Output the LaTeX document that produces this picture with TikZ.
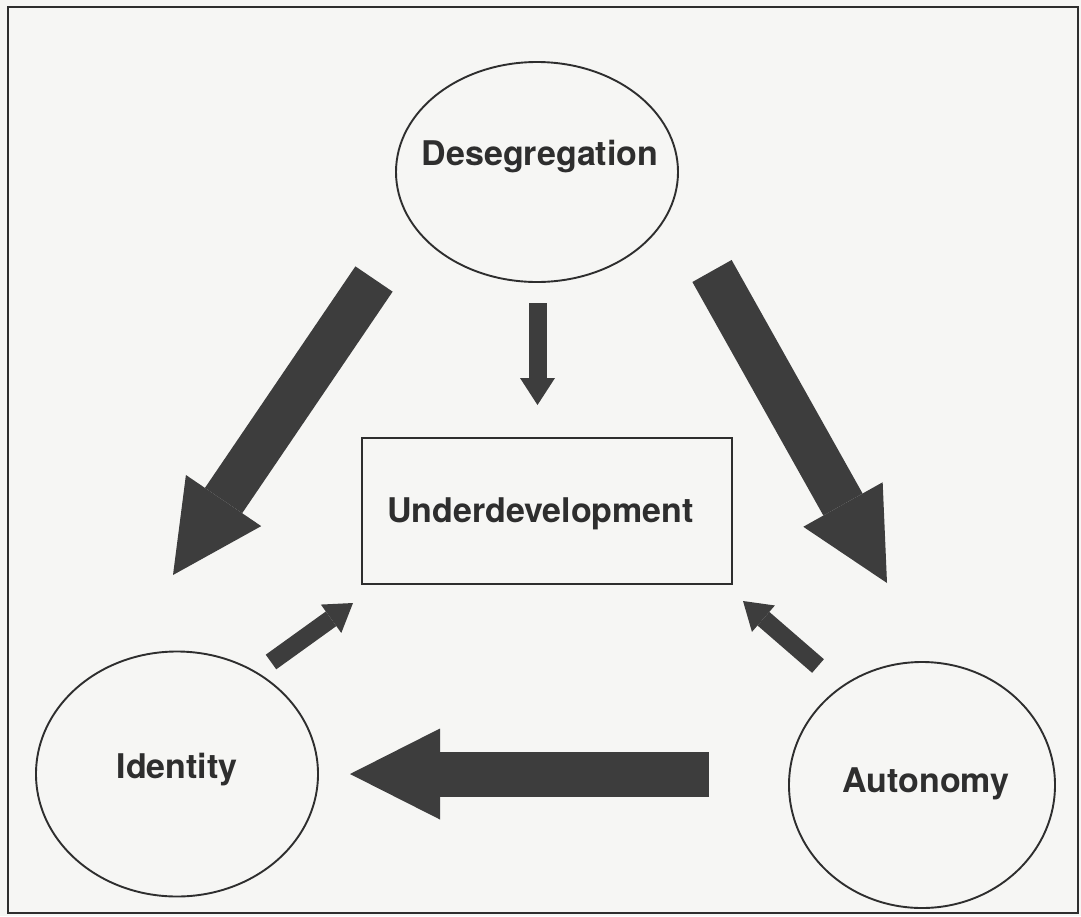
\documentclass[tikz,border=0pt]{standalone}
\usepackage{fontspec}
\setmainfont{TeX Gyre Heros}
\usetikzlibrary{shapes.geometric,arrows.meta}
\definecolor{ink}{HTML}{2E2E2E}
\definecolor{arrowfill}{HTML}{3D3D3D}
\definecolor{paper}{HTML}{F6F6F4}
\begin{document}
\begin{tikzpicture}[x=1pt,y=-1pt,
  oval/.style={ellipse, draw=ink, line width=1.9pt, inner sep=0pt},
  boxnode/.style={rectangle, draw=ink, line width=1.9pt, inner sep=0pt},
  lbl/.style={anchor=base, text=ink, inner sep=0pt, font=\fontsize{34}{40}\selectfont\bfseries},
  bigarrow/.style={draw=arrowfill, line width=45pt, -{Triangle[width=91pt,length=90pt,line width=0pt]}},
  smallarrow/.style={draw=arrowfill, line width=18pt, -{Triangle[width=35pt,length=27pt,line width=0pt]}}
]
\useasboundingbox (0,0) rectangle (1081,916);
\fill[paper] (0,0) rectangle (1081,916);
\draw[ink, line width=2pt] (8,7) rectangle (1078,913);

% nodes
\node[oval, minimum width=282pt, minimum height=220pt] (deseg) at (537,172) {};
\node[boxnode, minimum width=370pt, minimum height=146pt] (under) at (547,511) {};
\node[oval, minimum width=282pt, minimum height=245pt] (ident) at (177,774) {};
\node[oval, minimum width=266pt, minimum height=246pt] (auton) at (922,785) {};

\node[lbl] (desegtext) at (540,165) {Desegregation};
\node[lbl] (undertext) at (540.5,522) {Underdevelopment};
\node[lbl] (identtext) at (177,778) {Identity};
\node[lbl] (autontext) at (926,792) {Autonomy};

% arrow end points
\coordinate (a1s) at (374,279);
\coordinate (a1e) at (173,575);
\coordinate (a2s) at (712,271);
\coordinate (a2e) at (887,583);
\coordinate (a3s) at (709,774);
\coordinate (a3e) at (350,774);
\coordinate (a4s) at (537.5,303);
\coordinate (a4e) at (537.5,405);
\coordinate (a5s) at (271,662);
\coordinate (a5e) at (353,603);
\coordinate (a6s) at (818,666);
\coordinate (a6e) at (743,601);

\draw[bigarrow] (a1s) -- (a1e);
\draw[bigarrow] (a2s) -- (a2e);
\draw[bigarrow] (a3s) -- (a3e);
\draw[smallarrow] (a4s) -- (a4e);
\draw[smallarrow] (a5s) -- (a5e);
\draw[smallarrow] (a6s) -- (a6e);
\end{tikzpicture}
\end{document}
